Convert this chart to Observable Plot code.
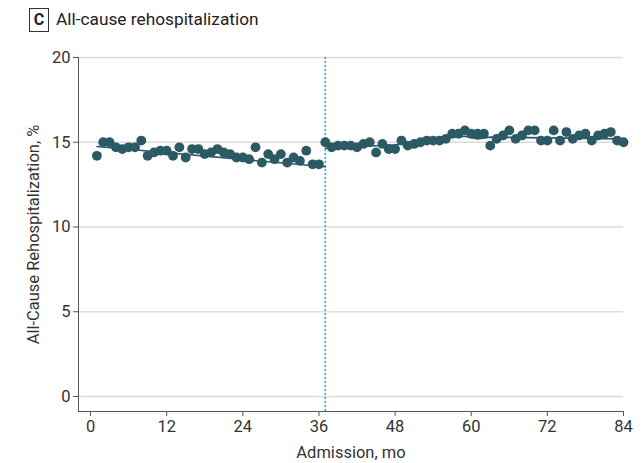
<!DOCTYPE html>
<html>
<head>
<meta charset="utf-8">
<script src="https://cdn.jsdelivr.net/npm/d3@7"></script>
<script src="https://cdn.jsdelivr.net/npm/@observablehq/plot@0.6"></script>
<style>
  html, body { margin: 0; padding: 0; background: #fff; }
  body { width: 643px; height: 463px; overflow: hidden; font-family: Roboto, "Noto Sans", sans-serif; }
  #title { height: 40px; position: relative; }
  #title .box { position: absolute; left: 29px; top: 8px; width: 18px; height: 22px; border: 1.3px solid #333;
    font-weight: bold; font-size: 16px; line-height: 22px; text-align: center; color: #222; }
  #title .txt { position: absolute; left: 56px; top: 8px; font-size: 17.3px; line-height: 22px; color: #222; }
  svg text { font-family: Roboto, "Noto Sans", sans-serif; }
</style>
</head>
<body>
<div id="title"><span class="box">C</span><span class="txt">All-cause rehospitalization</span></div>
<div id="chart"></div>
<script>
// Monthly all-cause rehospitalization (%), months 1..84
const rates = [
  14.2, 15.0, 15.0, 14.7, 14.6, 14.7, 14.7, 15.1, 14.2, 14.4,
  14.5, 14.5, 14.2, 14.7, 14.1, 14.6, 14.6, 14.3, 14.4, 14.6,
  14.4, 14.3, 14.1, 14.1, 14.0, 14.7, 13.8, 14.3, 14.0, 14.3,
  13.8, 14.1, 13.9, 14.5, 13.7, 13.7,
  15.0, 14.7, 14.8, 14.8, 14.8, 14.7, 14.9, 15.0, 14.4, 14.9,
  14.6, 14.6, 15.1, 14.8, 14.9, 15.0, 15.1, 15.1, 15.1, 15.2,
  15.5, 15.5, 15.7, 15.5, 15.5, 15.5, 14.8, 15.2, 15.4, 15.7,
  15.2, 15.4, 15.7, 15.7, 15.1, 15.1, 15.7, 15.1, 15.6, 15.2,
  15.4, 15.5, 15.1, 15.4, 15.5, 15.6, 15.1, 15.0
];
const points = rates.map((v, i) => ({month: i + 1, rate: v}));

// Fitted trend
const preTrendMonths = [1, 37];
const preTrendRates = [14.75, 13.55];
const postTrendMonths = [37, 48, 57, 59, 61, 63, 84];
const postTrendRates = [14.65, 14.85, 15.3, 15.35, 15.2, 15.3, 15.2];
const preTrend = preTrendMonths.map((m, i) => ({month: m, rate: preTrendRates[i]}));
const postTrend = postTrendMonths.map((m, i) => ({month: m, rate: postTrendRates[i]}));

const interventionMonth = [37];
const xTicks = [0, 12, 24, 36, 48, 60, 72, 84];
const yTicks = [0, 5, 10, 15, 20];

const xMin = -1.9, yMin = -0.885;
const ink = "#2b5a65";

const chart = Plot.plot({
  width: 643,
  height: 423,
  marginTop: 17,
  marginBottom: 52,
  marginLeft: 78,
  marginRight: 20,
  style: {fontSize: "16.5px", color: "#333", fontFamily: "Roboto, 'Noto Sans', sans-serif"},
  x: {domain: [xMin, 84]},
  y: {domain: [yMin, 20]},
  marks: [
    Plot.ruleY(yTicks, {x1: xMin, x2: 84, stroke: "#dcdcdc", strokeWidth: 1.5}),
    Plot.ruleX([xMin], {y1: yMin, y2: 20, stroke: "#555", strokeWidth: 1}),
    Plot.ruleY([yMin], {x1: xMin, x2: 84, stroke: "#555", strokeWidth: 1}),
    Plot.axisY({ticks: yTicks, tickSize: 5, tickPadding: 3, stroke: "#555", fontSize: 16.5,
      label: "All-Cause Rehospitalization, %", labelAnchor: "center", labelArrow: "none", labelOffset: 51}),
    Plot.axisX({ticks: xTicks, tickSize: 5, tickPadding: 4, stroke: "#555", fontSize: 16.5,
      label: "Admission, mo", labelAnchor: "center", labelArrow: "none", labelOffset: 46}),
    Plot.ruleX(interventionMonth, {y1: yMin, y2: 20, stroke: "#1fa8e0", strokeWidth: 1.6, strokeDasharray: "2,2"}),
    Plot.line(preTrend, {x: "month", y: "rate", stroke: ink, strokeWidth: 1.6}),
    Plot.line(postTrend, {x: "month", y: "rate", stroke: ink, strokeWidth: 1.6}),
    Plot.dot(points, {x: "month", y: "rate", r: 4.9, fill: ink, stroke: "none"})
  ]
});
document.getElementById("chart").appendChild(chart);
</script>
</body>
</html>
